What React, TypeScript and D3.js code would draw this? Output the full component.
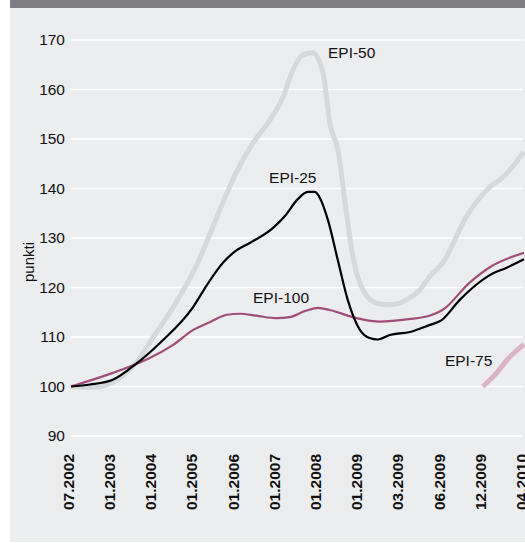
import React from "react";
import * as d3 from "d3";

const categories = ["07.2002","01.2003","01.2004","01.2005","01.2006","01.2007","01.2008","01.2009","03.2009","06.2009","12.2009","04.2010"];
const yTicks = [90,100,110,120,130,140,150,160,170];

const epi25X = [0,0.46,1.0,1.6,2.16,2.96,3.3,3.69,4.0,4.34,4.9,5.2,5.49,5.75,5.92,6.05,6.24,6.48,6.72,7.01,7.25,7.45,7.74,8.23,8.7,9.0,9.44,9.76,10.17,10.58,11];
const epi25Y = [100,100.4,101.3,104.7,108.8,116,120.5,125,127.4,129,132,134.5,137.7,139.3,139.3,138,133.6,125.5,117.5,111.5,109.8,109.5,110.4,111,112.4,113.4,117.5,120,122.5,124,125.7];

const epi100X = [0,1.0,1.6,1.85,2.48,2.96,3.37,3.79,4.1,4.5,5.0,5.3,5.7,6.0,6.3,6.94,7.5,8.2,8.7,9.03,9.68,10.17,11];
const epi100Y = [100,102.7,104.6,105.5,108.4,111.4,113,114.5,114.7,114.3,113.8,114,115.3,115.9,115.4,113.8,113.1,113.6,114.3,115.5,121,124.1,127];

const epi50X = [0,0.5,1.0,1.6,2.0,2.48,3.05,3.45,3.62,4.03,4.42,4.83,5.15,5.39,5.63,5.87,6.12,6.29,6.48,6.7,6.85,7.09,7.43,7.74,8.15,8.47,8.71,9.03,9.6,10.17,10.49,11];
const epi50Y = [100,99.8,100.8,105,110,116,124.5,132.3,135.8,143.5,149.2,153.8,158.5,164,167,167.4,163.3,153,147.8,134.3,126,119.5,116.8,116.5,117.5,119.5,122.2,125,134.3,140.3,142.3,147.4];

const epi75X = [10,10.34,10.6,11];
const epi75Y = [100,102.8,105.5,108.5];

const seriesNames = ["EPI-50","EPI-25","EPI-100","EPI-75"];
const labelX = [6.24,4.81,4.42,9.08];
const labelY = [166.4,141.1,116.9,104.1];

const FONT = "'Liberation Sans', Arial, Helvetica, sans-serif";

export default function App() {
  const W = 525, H = 543;
  const x = d3.scaleLinear().domain([0, 11]).range([71, 524]);
  const y = d3.scaleLinear().domain([90, 170]).range([436, 40]);
  const line = d3.line<[number, number]>().x(d => x(d[0])).y(d => y(d[1])).curve(d3.curveMonotoneX);
  const mk = (xs: number[], ys: number[]) => line(xs.map((v, i) => [v, ys[i]] as [number, number])) || "";

  const series = [
    { d: mk(epi50X, epi50Y), color: "#d6d9d9", w: 5 },
    { d: mk(epi75X, epi75Y), color: "#dbb3c3", w: 5 },
    { d: mk(epi100X, epi100Y), color: "#a14d78", w: 2.2 },
    { d: mk(epi25X, epi25Y), color: "#000000", w: 2.2 },
  ];

  return (
    <svg width={W} height={H} style={{ position: "absolute", left: 0, top: 0 }} fontFamily={FONT}>
      <rect x={0} y={0} width={W} height={H} fill="#ffffff" />
      <rect x={10} y={8} width={515} height={534} fill="#ecedef" />
      <rect x={10} y={0} width={515} height={8} fill="#7f7e83" />
      {yTicks.map(t => (
        <g key={t}>
          <line x1={71} x2={523} y1={y(t)} y2={y(t)} stroke="#ffffff" strokeWidth={1.5} />
          <text x={65} y={y(t)} dy="0.35em" textAnchor="end" fontSize={15.5} fill="#111">{t}</text>
        </g>
      ))}
      <text transform={`translate(34,262) rotate(-90)`} textAnchor="middle" fontSize={15} fill="#111">punkti</text>
      {series.map((s, i) => (
        <path key={i} d={s.d} fill="none" stroke={s.color} strokeWidth={s.w} strokeLinejoin="round" strokeLinecap="butt" />
      ))}
      {seriesNames.map((n, i) => (
        <text key={n} x={x(labelX[i])} y={y(labelY[i])} fontSize={15.5} fill="#111">{n}</text>
      ))}
      {categories.map((c, i) => (
        <text key={c} transform={`translate(${x(i) - 2.5},454) rotate(-90)`} dy="0.35em" textAnchor="end" fontSize={15.5} fontWeight="bold" fill="#111">{c}</text>
      ))}
    </svg>
  );
}
